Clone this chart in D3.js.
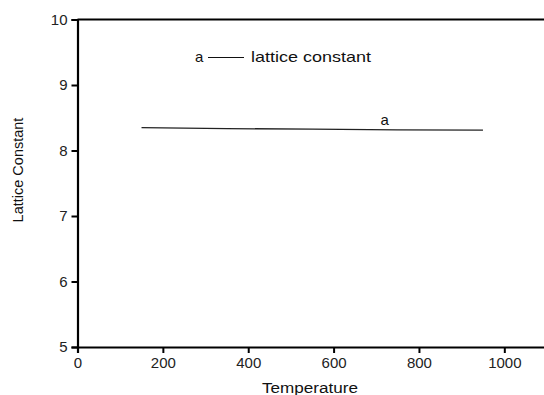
<!DOCTYPE html>
<html><head><meta charset="utf-8">
<script src="https://cdn.jsdelivr.net/npm/d3@7"></script>
<style>body{margin:0;background:#fff;} svg{display:block;} text{font-family:"Liberation Sans",Arial,sans-serif;}</style>
</head><body>
<svg id="c" width="544" height="395"></svg>
<script>
const temperature = [150, 350, 550, 750, 950];
const latticeA = [8.35, 8.335, 8.325, 8.315, 8.31];
const xTicks = [0, 200, 400, 600, 800, 1000];
const yTicks = [5, 6, 7, 8, 9, 10];
const xTitle = "Temperature";
const yTitle = "Lattice Constant";
const legendLabel = "lattice constant";
const seriesName = "a";

const svg = d3.select("#c");
const x = d3.scaleLinear().domain([0, 1100]).range([77.5, 547]);
const y = d3.scaleLinear().domain([5, 10]).range([347, 19.5]);

// top border
svg.append("line").attr("x1", x(0)).attr("x2", 544).attr("y1", y(10)).attr("y2", y(10))
  .attr("stroke", "#000").attr("stroke-width", 2);

const xAxis = svg.append("g").attr("transform", `translate(0,${y(5)})`)
  .call(d3.axisBottom(x).tickValues(xTicks).tickSize(6).tickPadding(4).tickFormat(d3.format("d")));
const yAxis = svg.append("g").attr("transform", `translate(${x(0)},0)`)
  .call(d3.axisLeft(y).tickValues(yTicks).tickSize(6).tickPadding(4).tickFormat(d3.format("d")));
[xAxis, yAxis].forEach(g => {
  g.select(".domain").attr("stroke", "#000").attr("stroke-width", 2.2);
  g.selectAll(".tick line").attr("stroke", "#000").attr("stroke-width", 2);
  g.selectAll(".tick text").attr("fill", "#222").style("font-size", "15px")
    .style("font-family", "'Liberation Sans', Arial, sans-serif");
});

// series line
const line = d3.line().x((d, i) => x(temperature[i])).y(d => y(d));
svg.append("path").datum(latticeA).attr("d", line)
  .attr("fill", "none").attr("stroke", "#222").attr("stroke-width", 1.3);

// series label
svg.append("text").attr("x", x(710)).attr("y", y(latticeA[3]) - 5)
  .attr("font-size", 15).attr("fill", "#111").text(seriesName);

// legend
svg.append("text").attr("x", 195).attr("y", 62).attr("font-size", 15).attr("fill", "#111").text(seriesName);
svg.append("line").attr("x1", 208).attr("x2", 244).attr("y1", 57.5).attr("y2", 57.5)
  .attr("stroke", "#111").attr("stroke-width", 1.2);
svg.append("text").attr("x", 251).attr("y", 62).attr("font-size", 15).attr("fill", "#111")
  .attr("textLength", 120).attr("lengthAdjust", "spacingAndGlyphs").text(legendLabel);

// axis titles
svg.append("text").attr("x", 262).attr("y", 393)
  .attr("font-size", 14).attr("fill", "#111")
  .attr("textLength", 96).attr("lengthAdjust", "spacingAndGlyphs").text(xTitle);
svg.append("text").attr("transform", `translate(23,170) rotate(-90)`).attr("text-anchor", "middle")
  .attr("font-size", 14.5).attr("fill", "#111").text(yTitle);
</script>
</body></html>
